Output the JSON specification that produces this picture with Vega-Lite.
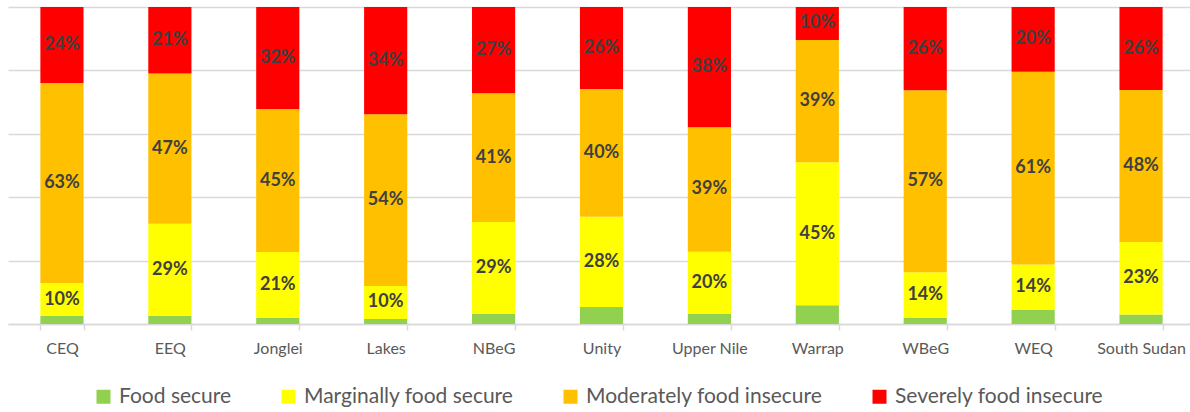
{
  "$schema": "https://vega.github.io/schema/vega-lite/v6.json",
  "width": 1182,
  "height": 317,
  "autosize": {"type": "none"},
  "padding": {"left": 8, "top": 7, "right": 0, "bottom": 88},
  "background": "white",
  "config": {"view": {"stroke": null}, "font": "Lato"},
  "data": {
    "values": [
      {"region": "CEQ", "category": "Food secure", "value": 2.5},
      {"region": "CEQ", "category": "Marginally food secure", "value": 10.4},
      {"region": "CEQ", "category": "Moderately food insecure", "value": 63.1},
      {"region": "CEQ", "category": "Severely food insecure", "value": 24.0},
      {"region": "EEQ", "category": "Food secure", "value": 2.6},
      {"region": "EEQ", "category": "Marginally food secure", "value": 29.0},
      {"region": "EEQ", "category": "Moderately food insecure", "value": 47.4},
      {"region": "EEQ", "category": "Severely food insecure", "value": 21.0},
      {"region": "Jonglei", "category": "Food secure", "value": 1.9},
      {"region": "Jonglei", "category": "Marginally food secure", "value": 20.8},
      {"region": "Jonglei", "category": "Moderately food insecure", "value": 45.1},
      {"region": "Jonglei", "category": "Severely food insecure", "value": 32.2},
      {"region": "Lakes", "category": "Food secure", "value": 1.6},
      {"region": "Lakes", "category": "Marginally food secure", "value": 10.4},
      {"region": "Lakes", "category": "Moderately food insecure", "value": 54.2},
      {"region": "Lakes", "category": "Severely food insecure", "value": 33.8},
      {"region": "NBeG", "category": "Food secure", "value": 3.2},
      {"region": "NBeG", "category": "Marginally food secure", "value": 29.0},
      {"region": "NBeG", "category": "Moderately food insecure", "value": 40.6},
      {"region": "NBeG", "category": "Severely food insecure", "value": 27.2},
      {"region": "Unity", "category": "Food secure", "value": 5.4},
      {"region": "Unity", "category": "Marginally food secure", "value": 28.4},
      {"region": "Unity", "category": "Moderately food insecure", "value": 40.3},
      {"region": "Unity", "category": "Severely food insecure", "value": 25.9},
      {"region": "Upper Nile", "category": "Food secure", "value": 3.2},
      {"region": "Upper Nile", "category": "Marginally food secure", "value": 19.6},
      {"region": "Upper Nile", "category": "Moderately food insecure", "value": 39.3},
      {"region": "Upper Nile", "category": "Severely food insecure", "value": 37.9},
      {"region": "Warrap", "category": "Food secure", "value": 5.9},
      {"region": "Warrap", "category": "Marginally food secure", "value": 45.1},
      {"region": "Warrap", "category": "Moderately food insecure", "value": 38.6},
      {"region": "Warrap", "category": "Severely food insecure", "value": 10.4},
      {"region": "WBeG", "category": "Food secure", "value": 1.9},
      {"region": "WBeG", "category": "Marginally food secure", "value": 14.4},
      {"region": "WBeG", "category": "Moderately food insecure", "value": 57.4},
      {"region": "WBeG", "category": "Severely food insecure", "value": 26.3},
      {"region": "WEQ", "category": "Food secure", "value": 4.4},
      {"region": "WEQ", "category": "Marginally food secure", "value": 14.4},
      {"region": "WEQ", "category": "Moderately food insecure", "value": 60.8},
      {"region": "WEQ", "category": "Severely food insecure", "value": 20.4},
      {"region": "South Sudan", "category": "Food secure", "value": 3.0},
      {"region": "South Sudan", "category": "Marginally food secure", "value": 22.9},
      {"region": "South Sudan", "category": "Moderately food insecure", "value": 47.9},
      {"region": "South Sudan", "category": "Severely food insecure", "value": 26.2}
    ]
  },
  "encoding": {
    "x": {
      "field": "region",
      "type": "nominal",
      "sort": null,
      "scale": {"range": [0, 1187], "paddingInner": 0.6, "paddingOuter": 0.3},
      "axis": {
        "title": null,
        "labelAngle": 0,
        "labelFontSize": 16,
        "labelColor": "#595959",
        "labelPadding": 10,
        "domainColor": "#d9d9d9",
        "domainWidth": 1.5,
        "tickColor": "#d9d9d9",
        "tickWidth": 1.5,
        "tickSize": 6,
        "tickBand": "extent",
        "grid": false
      }
    }
  },
  "layer": [
    {
      "mark": {"type": "bar"},
      "encoding": {
        "y": {
          "field": "value",
          "type": "quantitative",
          "stack": "zero",
          "scale": {"domain": [0, 100], "nice": false},
          "axis": {
            "title": null,
            "labels": false,
            "ticks": false,
            "domain": false,
            "grid": true,
            "gridColor": "#d9d9d9",
            "gridWidth": 1.5,
            "values": [0, 20, 40, 60, 80, 100]
          }
        },
        "order": {"field": "category", "sort": "ascending"},
        "color": {
          "field": "category",
          "type": "nominal",
          "scale": {
            "domain": ["Food secure", "Marginally food secure", "Moderately food insecure", "Severely food insecure"],
            "range": ["#92D050", "#FFFF00", "#FFC000", "#FF0000"]
          },
          "legend": {
            "title": null,
            "orient": "none",
            "legendX": 85,
            "legendY": 379,
            "direction": "horizontal",
            "columns": 4,
            "columnPadding": 46,
            "symbolType": "square",
            "symbolSize": 196,
            "symbolStrokeWidth": 0,
            "symbolOpacity": 1,
            "labelFontSize": 21,
            "labelColor": "#595959",
            "labelOffset": 5,
            "labelLimit": 400
          }
        }
      }
    },
    {
      "transform": [
        {"stack": "value", "groupby": ["region"], "sort": [{"field": "category", "order": "ascending"}], "as": ["v0", "v1"]},
        {"calculate": "(datum.v0 + datum.v1) / 2", "as": "mid"},
        {"calculate": "format(datum.value, '.0f') + '%'", "as": "label"},
        {"filter": "datum.category != 'Food secure'"}
      ],
      "mark": {"type": "text", "fontSize": 18, "fontWeight": "bold", "color": "#404040", "baseline": "middle", "align": "center"},
      "encoding": {
        "y": {"field": "mid", "type": "quantitative"},
        "text": {"field": "label", "type": "nominal"}
      }
    }
  ]
}
